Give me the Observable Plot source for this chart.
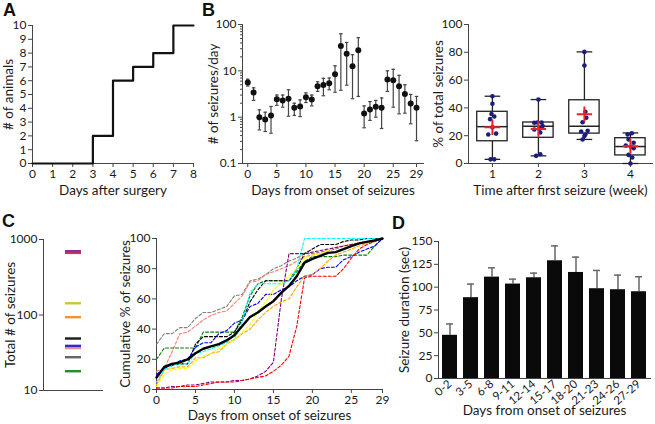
<!DOCTYPE html>
<html><head><meta charset="utf-8">
<script src="https://cdn.jsdelivr.net/npm/d3@7"></script>
<script src="https://cdn.jsdelivr.net/npm/@observablehq/plot@0.6"></script>
<style>
body{margin:0;background:#fff;}
#fig{position:relative;width:655px;height:424px;overflow:hidden;background:#fff;}
.p{position:absolute;}
.lab{position:absolute;font-family:"Liberation Sans",Arial,sans-serif;font-weight:bold;font-size:18px;color:#111;line-height:1;}
</style></head>
<body><div id="fig"></div>
<script>
// ---------- Panel A ----------
const daysA = [0,1,2,3,4,5,6,7,8];
const animalsA = [0,0,0,2,6,7,8,10,10];

// ---------- Panel B left ----------
const seizDays = [0,1,2,3,4,5,6,7,8,9,10,11,12,13,14,15,16,17,18,19,20,21,22,23,24,25,26,27,28,29];
const seizMean = [5.6,3.4,0.99,0.89,1.09,2.44,2.29,2.5,1.59,1.7,2.7,2.4,4.65,4.97,5.4,8.4,34.4,23.5,12.6,27.7,1.2,1.46,1.67,1.59,6.5,6.3,4.65,3.18,1.97,1.59];
const seizHi = [6.6,4.3,1.44,1.28,1.7,3.0,3.0,3.9,2.0,2.36,3.34,3.0,5.8,6.9,7.0,12.8,63,41,22.3,52,1.75,2.17,2.3,2.6,10,10.8,8.0,5.0,3.1,2.8];
const seizLo = [4.7,2.3,0.53,0.49,0.45,1.8,1.64,1.05,1.09,1.03,2.07,1.75,3.6,2.9,3.9,3.45,3.8,4.9,2.5,2.8,0.59,0.85,1.0,0.57,3.6,1.64,1.18,1.22,0.72,0.31];
const seizTicks = [0,5,10,15,20,25,29];

// ---------- Panel B right ----------
const weeks = [1,2,3,4];
const boxMin = [3,5.5,17.3,0];
const boxQ1 = [16,18.5,21.5,5.8];
const boxMed = [26.5,26.8,26.8,12.2];
const boxQ3 = [37.2,29.5,45.5,18.2];
const boxMax = [48.4,46,80.3,22];
const boxMeanV = [26,24.8,35.5,12.5];
const week1Vals = [48.4,43,35.6,33.8,31.9,20.9,21.5,3,3,26];
const week1Off = [0,0,-0.02,0.04,-0.05,-0.09,0.08,-0.04,0.04,0];
const week2Vals = [46,29.3,29.5,29.5,27,25,24.5,22.3,5.5,6.7];
const week2Off = [0,-0.09,-0.02,0.07,0.09,0.02,-0.09,0.04,-0.05,0.04];
const week3Vals = [80.3,70.5,37.2,32.9,29.7,23,23.5,19.7,20.9,17.3];
const week3Off = [0,0,0.02,0.04,-0.04,-0.07,0.07,0,0.02,-0.04];
const week4Vals = [21.8,20.9,17.3,13,14.9,12,6.2,4.3,0,11];
const week4Off = [0.03,-0.06,-0.04,-0.1,0.07,0.01,-0.04,0.04,0,0.07];

// ---------- Panel C ----------
const animalNames = ["red","purple","yellow","orange","black","cyan","salmon","blue","gray","green"];
const animalColors = ["#e03232","#8a2ea0","#c8c832","#f5922e","#1a1a1a","#3ee0e0","#f08c8c","#2a2ad2","#666666","#2a8c2a"];
const animalTotals = [665,700,143,93.6,48.8,38,36.5,39,27.6,18];
const cumDays = [0,1,2,3,4,5,6,7,8,9,10,11,12,13,14,15,16,17,18,19,20,21,22,23,24,25,26,27,28,29];
const cumRed = [1,1,1,2,2,2,3,4,5,5,5,6,7,8,9,12,16,22,42,74,75,75,75,75,80,87,93,96,98,100];
const cumPurple = [1,1,2,2,3,3,4,5,5,5,6,6,7,9,12,18,59,90,90,90,91,92,93,94,95,96,97,98,99,100];
const cumYellow = [2,10,13,14,14,19,22,24,27,30,33,38,43,51,58,66,70,75,80,87,89,90,92,94,95,96,97,98,99,100];
const cumOrange = [3,13,14,15,15,21,21,24,25,30,33,37,40,46,51,55,58,60,68,75,76,80,85,89,91,93,95,97,98,100];
const cumBlack = [8,15,16,17,17,30,35,35,35,35,38,46,58,66,72,72,72,72,80,90,93,96,96,96,98,99,99,100,100,100];
const cumCyan = [5,13,16,17,17,24,25,27,29,31,33,45,64,70,70,70,70,72,80,100,100,100,100,100,100,100,100,100,100,100];
const cumSalmon = [12,14,25,37,38,42,46,49,51,52,57,62,71,72,76,78,80,82,85,88,89,90,92,94,95,96,97,98,99,100];
const cumBlue = [10,14,16,19,20,28,31,31,37,39,44,46,55,57,63,63,66,68,72,75,76,80,81,81,86,88,91,93,95,100];
const cumGray = [30,37,37,41,41,47,51,51,53,55,62,63,72,73,76,80,82,85,87,90,90,91,92,93,95,96,97,98,99,100];
const cumGreen = [20,27.5,27.5,27.5,27.5,27.5,38,38,38,38,38,48,62,70,72,72,72,72,78,85,88,88,88,88,89,89,89,89,95,100];
const cumMean = [8,15,17,18,20,24,27,28.5,30,32.5,36,42,48,51,55,58.5,64,68.6,75,84,86.5,88.5,90.5,91,93,95,96.8,97.8,98.8,100];
const cumSeries = [cumRed,cumPurple,cumYellow,cumOrange,cumBlack,cumCyan,cumSalmon,cumBlue,cumGray,cumGreen];
const cumDrawOrder = ["gray","salmon","green","black","blue","cyan","orange","yellow","purple","red"];

// ---------- Panel D ----------
const durBins = ["0-2","3-5","6-8","9-11","12-14","15-17","18-20","21-23","24-26","27-29"];
const durMean = [47.3,88.5,111,103.4,110.3,128.9,116.1,98.3,97.2,95];
const durHi = [59.7,103.4,121.2,108.8,115.4,145.2,132.9,118.3,113.2,111.4];

// ================= drawing =================
const FONT = "Lato, 'Open Sans', sans-serif";
const AX = "#444";
const TXT = "#1a1a1a";
function st(){ return {fontFamily: FONT, fontSize: "12px", color: TXT, background: "none", overflow: "visible"}; }
const fig = document.getElementById("fig");
function place(svg, left, top){ const d = document.createElement("div"); d.className = "p"; d.style.left = left+"px"; d.style.top = top+"px"; d.appendChild(svg); fig.appendChild(d); }
function letter(t, left, top){ const d = document.createElement("div"); d.className = "lab"; d.textContent = t; d.style.left = left+"px"; d.style.top = top+"px"; fig.appendChild(d); }
function xTitle(t, dy){ return Plot.text([t], {frameAnchor: "bottom", textAnchor: "middle", lineAnchor: "middle", dy, fontSize: 13.5}); }
function yTitle(t, dx){ return Plot.text([t], {frameAnchor: "left", textAnchor: "middle", lineAnchor: "middle", rotate: -90, dx, fontSize: 13.5}); }

// Panel A
const dataA = daysA.map((d,i)=>({day:d, n:animalsA[i]}));
place(Plot.plot({
  width: 215, height: 205, marginLeft: 32, marginRight: 22, marginTop: 25, marginBottom: 42,
  style: st(),
  x: {domain: [0,8]}, y: {domain: [0,10]},
  marks: [
    Plot.axisX({ticks: daysA, tickSize: 4, tickPadding: 2, label: null, stroke: AX}),
    Plot.axisY({ticks: d3.range(0,11), tickSize: 4, tickPadding: 2, label: null, stroke: AX}),
    Plot.frame({anchor: "left", stroke: AX}),
    Plot.frame({anchor: "bottom", stroke: AX}),
    Plot.line(dataA, {x: "day", y: "n", curve: "step-after", stroke: "#111", strokeWidth: 2.2}),
    xTitle("Days after surgery", 27),
    yTitle("# of animals", -24)
  ]
}), 0, 0);

// Panel B left
const dataB = seizDays.map((d,i)=>({day:d, m:seizMean[i], hi:seizHi[i], lo:seizLo[i]}));
const minorB = [];
[0.1,1,10].forEach(b=>{ for(let k=2;k<=9;k++) minorB.push(b*k); });
place(Plot.plot({
  width: 235, height: 205, marginLeft: 47, marginRight: 7, marginTop: 24, marginBottom: 42,
  style: st(),
  x: {domain: [-0.9, 30.2]}, y: {type: "log", domain: [0.1, 100]},
  marks: [
    Plot.axisX({ticks: seizTicks, tickSize: 4, tickPadding: 2, label: null, stroke: AX}),
    Plot.axisY({ticks: [0.1,1,10,100], tickSize: 4, tickPadding: 2, label: null, stroke: AX, tickFormat: d => String(d)}),
    Plot.axisY({ticks: minorB, tickSize: 2, label: null, stroke: AX, tickFormat: () => ""}),
    Plot.frame({anchor: "left", stroke: AX}),
    Plot.frame({anchor: "bottom", stroke: AX}),
    Plot.ruleX(dataB, {x: "day", y1: "lo", y2: "hi", stroke: "#444", strokeWidth: 1.2}),
    Plot.link(dataB, {x1: d => d.day - 0.3, x2: d => d.day + 0.3, y1: "hi", y2: "hi", stroke: "#444", strokeWidth: 1.2}),
    Plot.link(dataB, {x1: d => d.day - 0.3, x2: d => d.day + 0.3, y1: "lo", y2: "lo", stroke: "#444", strokeWidth: 1.2}),
    Plot.dot(dataB, {x: "day", y: "m", r: 3, fill: "#111"}),
    xTitle("Days from onset of seizures", 27),
    yTitle("# of seizures/day", -29)
  ]
}), 195, 0);

// Panel B right
const boxData = weeks.map((w,i)=>({week:w, min:boxMin[i], q1:boxQ1[i], med:boxMed[i], q3:boxQ3[i], max:boxMax[i], mean:boxMeanV[i]}));
const dotData = [];
[[week1Vals,week1Off],[week2Vals,week2Off],[week3Vals,week3Off],[week4Vals,week4Off]].forEach(([v,o],i)=>{
  v.forEach((val,j)=>dotData.push({week: weeks[i], off: o[j], v: val}));
});
const BW = 0.33, CW = 0.17;
place(Plot.plot({
  width: 230, height: 205, marginLeft: 43, marginRight: 3, marginTop: 24, marginBottom: 42,
  style: st(),
  x: {domain: [0.48, 4.48]}, y: {domain: [0,100]},
  marks: [
    Plot.axisX({ticks: weeks, tickSize: 4, tickPadding: 2, label: null, stroke: AX, tickFormat: d => String(d)}),
    Plot.axisY({ticks: [0,20,40,60,80,100], tickSize: 4, tickPadding: 2, label: null, stroke: AX}),
    Plot.frame({anchor: "left", stroke: AX}),
    Plot.frame({anchor: "bottom", stroke: AX}),
    Plot.ruleX(boxData, {x: "week", y1: "min", y2: "q1", stroke: "#222", strokeWidth: 1.3}),
    Plot.ruleX(boxData, {x: "week", y1: "q3", y2: "max", stroke: "#222", strokeWidth: 1.3}),
    Plot.link(boxData, {x1: d => d.week - CW, x2: d => d.week + CW, y1: "max", y2: "max", stroke: "#222", strokeWidth: 1.3}),
    Plot.link(boxData, {x1: d => d.week - CW, x2: d => d.week + CW, y1: "min", y2: "min", stroke: "#222", strokeWidth: 1.3}),
    Plot.rect(boxData, {x1: d => d.week - BW, x2: d => d.week + BW, y1: "q1", y2: "q3", fill: "white", stroke: "#222", strokeWidth: 1.3}),
    Plot.link(boxData, {x1: d => d.week - BW, x2: d => d.week + BW, y1: "med", y2: "med", stroke: "#222", strokeWidth: 1.5}),
    Plot.dot(dotData, {x: d => d.week + d.off, y: "v", r: 2.3, fill: "#1c1c7a"}),
    Plot.dot(boxData, {x: "week", y: "mean", symbol: "plus", r: 5, stroke: "#e8232b", strokeWidth: 2}),
    xTitle("Time after first seizure (week)", 27),
    yTitle("% of total seizures", -30)
  ]
}), 425, 0);

// Panel C left
const totData = animalNames.map((n,i)=>({name:n, color: animalColors[i], total: animalTotals[i], g: "all"}));
const totOrder = ["green","gray","salmon","cyan","blue","black","orange","yellow","red","purple"];
totData.sort((a,b)=>totOrder.indexOf(a.name)-totOrder.indexOf(b.name));
place(Plot.plot({
  width: 110, height: 209, marginLeft: 43, marginRight: 8, marginTop: 24, marginBottom: 34,
  style: st(),
  x: {type: "band", domain: ["all"], padding: 0.57, axis: null},
  y: {type: "log", domain: [10, 1000]},
  marks: [
    Plot.axisY({ticks: [10,100,1000], tickSize: 4, tickPadding: 2, label: null, stroke: AX, tickFormat: d => String(d)}),
    Plot.frame({anchor: "left", stroke: AX}),
    Plot.frame({anchor: "bottom", stroke: AX}),
    Plot.tickY(totData, {x: "g", y: "total", stroke: "color", strokeWidth: 2.4}),
    yTitle("Total # of seizures", -33)
  ]
}), 0, 215);

// Panel C middle
const cumData = [];
animalNames.forEach((n,i)=>{ cumSeries[i].forEach((v,j)=>cumData.push({name:n, day:cumDays[j], v})); });
cumData.sort((a,b)=>cumDrawOrder.indexOf(a.name)-cumDrawOrder.indexOf(b.name));
const meanData = cumDays.map((d,i)=>({day:d, v:cumMean[i]}));
place(Plot.plot({
  width: 280, height: 209, marginLeft: 46, marginRight: 8, marginTop: 23, marginBottom: 35,
  style: st(),
  x: {domain: [0,29]}, y: {domain: [0,100]},
  color: {domain: animalNames, range: animalColors},
  marks: [
    Plot.axisX({ticks: seizTicks, tickSize: 4, tickPadding: 2, label: null, stroke: AX}),
    Plot.axisY({ticks: [0,20,40,60,80,100], tickSize: 4, tickPadding: 2, label: null, stroke: AX}),
    Plot.frame({anchor: "left", stroke: AX}),
    Plot.frame({anchor: "bottom", stroke: AX}),
    Plot.line(cumData, {x: "day", y: "v", z: "name", stroke: "name", strokeWidth: 1.1, strokeDasharray: "3,2"}),
    Plot.line(meanData, {x: "day", y: "v", stroke: "#000", strokeWidth: 2.4}),
    xTitle("Days from onset of seizures", 26.5),
    yTitle("Cumulative % of seizures", -31)
  ]
}), 110, 215);

// Panel D
const durData = durBins.map((b,i)=>({bin:b, m:durMean[i], hi:durHi[i]}));
place(Plot.plot({
  width: 275, height: 209, marginLeft: 58, marginRight: 5, marginTop: 26, marginBottom: 46,
  style: st(),
  x: {type: "band", domain: durBins, paddingInner: 0.266, paddingOuter: 0},
  y: {domain: [0,150]},
  marks: [
    Plot.axisX({tickSize: 0, tickPadding: 4, tickRotate: -40, label: null, fontSize: 11.5}),
    Plot.axisY({ticks: [0,25,50,75,100,125,150], tickSize: 4, tickPadding: 2, label: null, stroke: AX}),
    Plot.ruleX(durData, {x: "bin", y1: "m", y2: "hi", stroke: "#666", strokeWidth: 1.5}),
    Plot.tickY(durData, {x: "bin", y: "hi", stroke: "#666", strokeWidth: 1.5, insetLeft: 4, insetRight: 4}),
    Plot.barY(durData, {x: "bin", y: "m", fill: "#0a0a0a"}),
    Plot.frame({anchor: "left", stroke: AX}),
    Plot.frame({anchor: "bottom", stroke: AX}),
    xTitle("Days from onset of seizures", 32),
    yTitle("Seizure duration (sec)", -34)
  ]
}), 380, 215);

letter("A", 3, 1);
letter("B", 202, 1);
letter("C", 2, 212);
letter("D", 392, 214);
</script></body></html>
